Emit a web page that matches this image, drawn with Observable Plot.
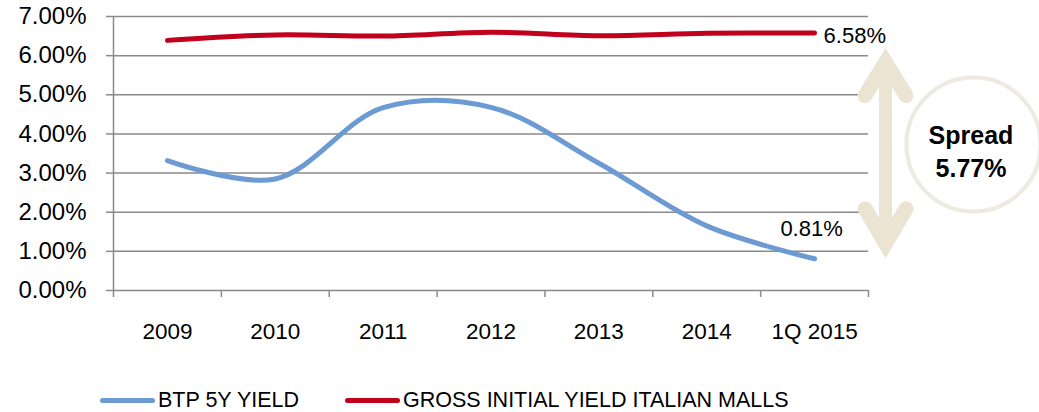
<!DOCTYPE html>
<html><head><meta charset="utf-8">
<script src="https://cdn.jsdelivr.net/npm/d3@7"></script>
<script src="https://cdn.jsdelivr.net/npm/@observablehq/plot@0.6"></script>
<style>
body{margin:0;background:#fff;font-family:"Liberation Sans",Arial,sans-serif;}
#wrap{position:relative;width:1039px;height:412px;overflow:hidden;}
.item{position:absolute;top:388px;height:24px;display:flex;align-items:center;font-size:21.5px;color:#000;white-space:nowrap;}
.sw{display:inline-block;width:55px;height:5px;border-radius:3px;margin-right:3px;}
</style></head>
<body><div id="wrap"></div>
<script>
const categories = ["2009","2010","2011","2012","2013","2014","1Q 2015"];
const btpYield  = [3.32, 2.85, 4.67, 4.68, 3.25, 1.65, 0.81];
const mallYield = [6.39, 6.53, 6.50, 6.60, 6.51, 6.57, 6.58];
const yTicks = [0,1,2,3,4,5,6,7];
const seriesNames = ["BTP 5Y YIELD", "GROSS INITIAL YIELD ITALIAN MALLS"];
const seriesColors = ["#6b9bd2", "#c0001c"];

const rows = categories.flatMap((c, i) => [
  {i, series: seriesNames[0], value: btpYield[i]},
  {i, series: seriesNames[1], value: mallYield[i]}
]);
const idx = categories.map((_, i) => i);
const bounds = d3.range(categories.length + 1).map(i => i - 0.5);
const last = categories.length - 1;
const spread = mallYield[last] - btpYield[last];

// annotation geometry (data units)
const arrowColor = "#ece4d3";
const ax = 6.658, aTop = 5.83, aBot = 1.20, armDx = 0.19, armDy = 0.85;
const topHead = [{x: ax - armDx, y: aTop - armDy}, {x: ax, y: aTop}, {x: ax + armDx, y: aTop - armDy}];
const botHead = [{x: ax - armDx, y: aBot + armDy + 0.04}, {x: ax, y: aBot}, {x: ax + armDx, y: aBot + armDy + 0.04}];

const gray = "#8a8a8a";
const chart = Plot.plot({
  width: 1039, height: 370,
  marginLeft: 113, marginRight: 171, marginTop: 16, marginBottom: 80,
  x: {type: "linear", domain: [-0.5, categories.length - 0.5]},
  y: {domain: [0, 7]},
  color: {domain: seriesNames, range: seriesColors},
  style: {fontFamily: "Liberation Sans, Arial, sans-serif", color: "#000", overflow: "visible", background: "transparent"},
  marks: [
    Plot.gridY(yTicks, {stroke: gray, strokeOpacity: 1, strokeWidth: 1.5}),
    Plot.ruleX([-0.5], {stroke: gray, strokeWidth: 1.5}),
    Plot.axisY(yTicks, {tickSize: 7, tickPadding: 20, tickFormat: d => d.toFixed(2) + "%", fontSize: 24, stroke: gray, strokeWidth: 1.5, fill: "#000", label: null}),
    Plot.axisX(bounds, {tickSize: 7, tickFormat: () => "", stroke: gray, strokeWidth: 1.5, label: null}),
    Plot.axisX(idx, {tickSize: 0, tickPadding: 33, tickFormat: i => categories[i], fontSize: 22.5, fill: "#000", label: null}),
    Plot.line(rows, {x: "i", y: "value", stroke: "series", z: "series", strokeWidth: 5, curve: "catmull-rom", strokeLinecap: "round"}),
    Plot.text([last], {x: d => d, y: d => mallYield[d], text: d => mallYield[d].toFixed(2) + "%", textAnchor: "start", dx: 9, dy: 3, fontSize: 22, fill: "#000"}),
    Plot.text([last], {x: d => d, y: d => btpYield[d], text: d => btpYield[d].toFixed(2) + "%", dx: -3, dy: -30, fontSize: 22, fill: "#000"}),
    Plot.link([0], {x1: () => ax, x2: () => ax, y1: () => aBot, y2: () => aTop, stroke: arrowColor, strokeWidth: 13}),
    Plot.line(topHead, {x: "x", y: "y", stroke: arrowColor, strokeWidth: 15, strokeLinecap: "round", strokeLinejoin: "miter", strokeMiterlimit: 10}),
    Plot.line(botHead, {x: "x", y: "y", stroke: arrowColor, strokeWidth: 15, strokeLinecap: "round", strokeLinejoin: "miter", strokeMiterlimit: 10}),
    Plot.dot([0], {x: () => 7.473, y: () => 3.73, r: 67, stroke: "#eeeae1", strokeWidth: 4, fill: "none"}),
    Plot.text([`Spread\n${spread.toFixed(2)}%`], {x: () => 7.45, y: () => 3.60, text: d => d, fontWeight: "bold", fontSize: 25, lineHeight: 1.32, lineAnchor: "middle", fill: "#000"})
  ]
});
const wrap = document.getElementById("wrap");
wrap.appendChild(chart);
const lefts = [100, 345];
seriesNames.forEach((name, k) => {
  const it = document.createElement("div");
  it.className = "item";
  it.style.left = lefts[k] + "px";
  it.innerHTML = `<span class="sw" style="background:${seriesColors[k]}"></span><span>${name}</span>`;
  wrap.appendChild(it);
});
</script></body></html>
